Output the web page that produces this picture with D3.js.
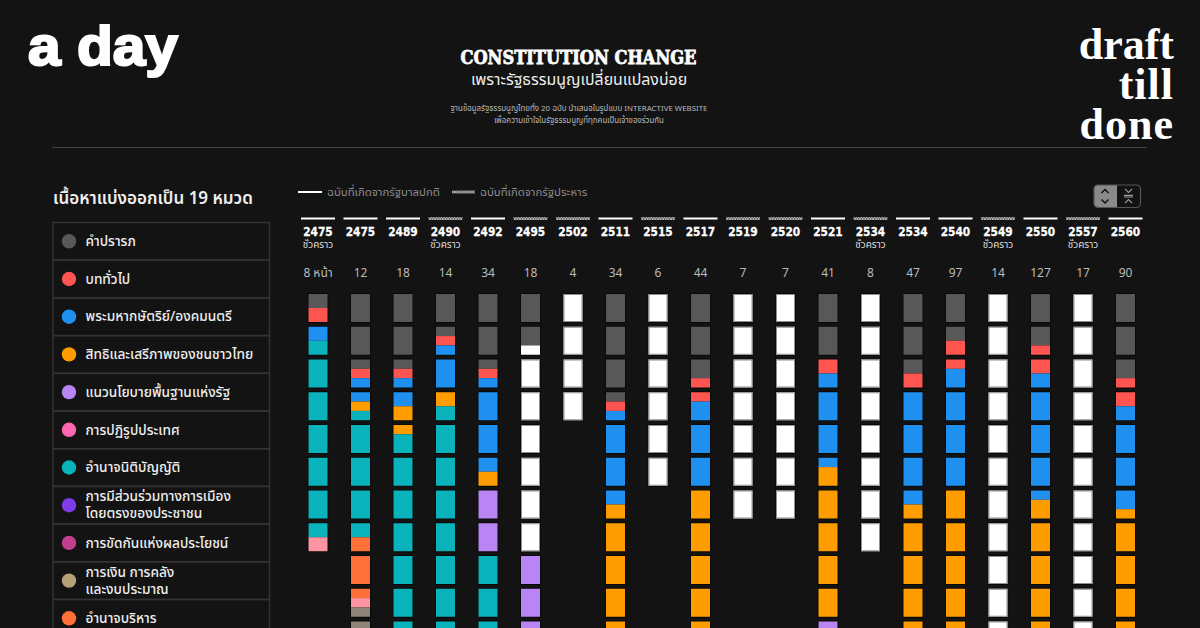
<!DOCTYPE html>
<html>
<head>
<meta charset="utf-8">
<script src="https://cdnjs.cloudflare.com/ajax/libs/d3/7.8.5/d3.min.js"></script>
<style>
	html, body { margin: 0; padding: 0; background: #131313; overflow: hidden; }
	svg { display: block; }
	text { font-family: "Noto Sans", "Noto Sans Thai", "DejaVu Sans", sans-serif; }
	.slab { font-family: "DejaVu Serif", serif; font-weight: 700; }
	.year { font-family: "DejaVu Sans", sans-serif; font-weight: 700; }
</style>
</head>
<body>
<div id="chart"></div>
<script>
// legend, in the order of the constitution's chapters
var legendKeys = ['pre', 'gen', 'king', 'rights', 'policy', 'reform', 'leg', 'part', 'conflict', 'money', 'exec'];
var legendLabels = [
	['คำปรารภ'],
	['บททั่วไป'],
	['พระมหากษัตริย์/องคมนตรี'],
	['สิทธิและเสรีภาพของชนชาวไทย'],
	['แนวนโยบายพื้นฐานแห่งรัฐ'],
	['การปฏิรูปประเทศ'],
	['อำนาจนิติบัญญัติ'],
	['การมีส่วนร่วมทางการเมือง', 'โดยตรงของประชาชน'],
	['การขัดกันแห่งผลประโยชน์'],
	['การเงิน การคลัง', 'และงบประมาณ'],
	['อำนาจบริหาร']
];
var categoryKeys = legendKeys.concat(['cat12', 'cat13', 'blank']);
var categoryColors = ['#585858', '#ff5551', '#2090f0', '#ff9d00', '#b985f5', '#ff66b2', '#0ab3bb', '#7d3ce8', '#c0408f', '#b5a077', '#ff7038', '#ff94a2', '#8c8478', '#ffffff'];

// one entry per constitution
var years = ['2475', '2475', '2489', '2490', '2492', '2495', '2502', '2511', '2515', '2517', '2519', '2520', '2521', '2534', '2534', '2540', '2549', '2550', '2557', '2560'];
var pageCounts = ['8 หน้า', '12', '18', '14', '34', '18', '4', '34', '6', '44', '7', '7', '41', '8', '47', '97', '14', '127', '17', '90'];
var fromCoup = [0, 0, 0, 1, 0, 1, 1, 0, 1, 0, 1, 1, 0, 1, 0, 0, 1, 0, 1, 0];
var interim = [1, 0, 0, 1, 0, 0, 0, 0, 0, 0, 0, 0, 0, 1, 0, 0, 1, 0, 1, 0];

// chapter lengths in sixths of a page, as far as the picture shows them
var sections = [
	[['pre', 3], ['gen', 3], ['king', 3], ['leg', 36], ['cat12', 3]],
	[['pre', 14], ['gen', 2], ['king', 4], ['rights', 2], ['leg', 23], ['exec', 11], ['cat12', 2], ['cat13', 8]],
	[['pre', 14], ['gen', 2], ['king', 5], ['rights', 5], ['leg', 40]],
	[['pre', 8], ['gen', 2], ['king', 8], ['rights', 3], ['leg', 45]],
	[['pre', 14], ['gen', 2], ['king', 17], ['rights', 3], ['policy', 12], ['leg', 18]],
	[['pre', 10], ['blank', 38], ['policy', 18]],
	[['blank', 24]],
	[['pre', 20], ['gen', 2], ['king', 17], ['rights', 27]],
	[['blank', 36]],
	[['pre', 16], ['gen', 4], ['king', 16], ['rights', 30]],
	[['blank', 42]],
	[['blank', 42]],
	[['pre', 12], ['gen', 3], ['king', 17], ['rights', 28], ['policy', 9]],
	[['blank', 48]],
	[['pre', 15], ['gen', 3], ['king', 21], ['rights', 27]],
	[['pre', 9], ['gen', 5], ['king', 22], ['rights', 30]],
	[['blank', 84]],
	[['pre', 10], ['gen', 5], ['king', 23], ['rights', 28]],
	[['blank', 102]],
	[['pre', 16], ['gen', 5], ['king', 19], ['rights', 26]]
];

var brandWords = ['draft', 'till', 'done'];

var SIXTHS = 6;

var x = d3.scalePoint().domain(d3.range(years.length)).range([318, 1125.5]);
var rowY = d3.scaleLinear().domain([0, 1]).range([294, 326.75]);
var cellY = d3.scaleLinear().domain([0, SIXTHS]).range([0, 28]);
var color = d3.scaleOrdinal(categoryKeys, categoryColors);
var legendY = d3.scaleLinear().domain([0, 1]).range([222.5, 260.2]);

var svg = d3.select('#chart').append('svg').attr('width', 1200).attr('height', 628);

// small chain of crosses used for the coup lines
var chain = svg.append('defs').append('pattern').attr('id', 'chain')
	.attr('patternUnits', 'userSpaceOnUse').attr('width', 2.6).attr('height', 3);
chain.append('path').attr('d', 'M0 0.3L2.6 2.7M0 2.7L2.6 0.3').attr('stroke', '#d0d0d0').attr('stroke-width', 0.9).attr('fill', 'none');

// wrap a column's chapters over its page cells
function toSegments (list) {
	var res = [], pos = 0;
	list.forEach(function (d) {
		var left = d[1];
		while (left > 0) {
			var row = Math.floor(pos / SIXTHS),
				start = pos - row * SIXTHS,
				len = Math.min(left, SIXTHS - start);
			res.push({key: d[0], row: row, start: start, len: len});
			pos += len;
			left -= len;
		}
	});
	return res;
}

// header
svg.append('text').attr('x', 28).attr('y', 65)
	.style('font-family', '"Liberation Sans"').style('font-weight', 700).style('font-size', '56px')
	.attr('textLength', 150).attr('lengthAdjust', 'spacingAndGlyphs')
	.attr('fill', '#fff').attr('stroke', '#fff').attr('stroke-width', 2.2).text('a day');

svg.selectAll('.brand').data(brandWords).enter().append('text')
	.attr('class', 'brand').attr('x', 1174).attr('y', function (d, i) { return 59 + i * 40; })
	.attr('text-anchor', 'end')
	.style('font-family', '"Liberation Serif"').style('font-weight', 700).style('font-size', '44px')
	.style('letter-spacing', function (d) { return d === 'draft' ? '0' : '1px'; })
	.attr('fill', '#fff').text(function (d) { return d; });

svg.append('text').attr('class', 'slab').attr('x', 578.5).attr('y', 64).attr('text-anchor', 'middle')
	.style('font-size', '19px').attr('fill', '#fff').attr('stroke', '#fff').attr('stroke-width', 0.8)
	.attr('textLength', 236).attr('lengthAdjust', 'spacingAndGlyphs')
	.text('CONSTITUTION CHANGE');
svg.append('text').attr('x', 579).attr('y', 85).attr('text-anchor', 'middle')
	.style('font-size', '15.9px').attr('fill', '#eee').text('เพราะรัฐธรรมนูญเปลี่ยนแปลงบ่อย');
svg.append('text').attr('x', 579).attr('y', 111).attr('text-anchor', 'middle')
	.style('font-size', '7.9px').attr('fill', '#bbb').text('ฐานข้อมูลรัฐธรรมนูญไทยทั้ง 20 ฉบับ นำเสนอในรูปแบบ INTERACTIVE WEBSITE');
svg.append('text').attr('x', 579).attr('y', 123).attr('text-anchor', 'middle')
	.style('font-size', '7.9px').attr('fill', '#bbb').text('เพื่อความเข้าใจในรัฐธรรมนูญที่ทุกคนเป็นเจ้าของร่วมกัน');

svg.append('line').attr('x1', 52).attr('x2', 1147).attr('y1', 147.5).attr('y2', 147.5).attr('stroke', '#444').attr('stroke-width', 1);

// left legend
svg.append('text').attr('x', 53).attr('y', 204)
	.style('font-size', '17px').style('font-weight', 600).attr('fill', '#eee').text('เนื้อหาแบ่งออกเป็น 19 หมวด');

var legendRow = svg.selectAll('.legend-row').data(legendKeys).enter().append('g')
	.attr('class', 'legend-row')
	.attr('transform', function (d, i) { return 'translate(0,' + legendY(i) + ')'; });
legendRow.append('rect').attr('x', 53).attr('y', 0).attr('width', 216.5).attr('height', legendY(1) - legendY(0))
	.attr('fill', 'none').attr('stroke', '#333').attr('stroke-width', 1.5);
legendRow.append('circle').attr('cx', 69).attr('cy', 18.8).attr('r', 7.2).attr('fill', function (d) { return color(d); });
legendRow.each(function (d, i) {
	var lines = legendLabels[i];
	d3.select(this).selectAll('text').data(lines).enter().append('text')
		.attr('x', 85.5)
		.attr('y', function (t, j) { return 23.6 + (j - (lines.length - 1) / 2) * 17; })
		.style('font-size', '13.7px').style('font-weight', 500).attr('fill', '#eee')
		.text(function (t) { return t; });
});

// top line styles
svg.append('line').attr('x1', 298).attr('x2', 322).attr('y1', 192).attr('y2', 192).attr('stroke', '#fff').attr('stroke-width', 2);
svg.append('text').attr('x', 327).attr('y', 196).style('font-size', '11.4px').attr('fill', '#8c8c8c').text('ฉบับที่เกิดจากรัฐบาลปกติ');
svg.append('rect').attr('x', 452).attr('y', 190.5).attr('width', 23).attr('height', 3).attr('fill', 'url(#chain)');
svg.append('text').attr('x', 480).attr('y', 196).style('font-size', '11.4px').attr('fill', '#8c8c8c').text('ฉบับที่เกิดจากรัฐประหาร');

// expand / collapse toggle
var toggle = svg.append('g').attr('fill', 'none');
toggle.append('path').attr('d', 'M1117 185H1098a4 4 0 0 0 -4 4V203a4 4 0 0 0 4 4H1117Z').attr('fill', '#8a8a8a');
toggle.append('rect').attr('x', 1094).attr('y', 185).attr('width', 46.5).attr('height', 22.5).attr('rx', 4).attr('stroke', '#555').attr('stroke-width', 1.2);
toggle.append('path').attr('d', 'M1101.5 193l3.5-3.5 3.5 3.5M1101.5 199.5l3.5 3.5 3.5-3.5').attr('stroke', '#111').attr('stroke-width', 1.5);
toggle.append('path').attr('d', 'M1125 189l3.5 3.5 3.5-3.5M1125 203l3.5-3.5 3.5 3.5M1124 195.4H1133M1124 197H1133').attr('stroke', '#999').attr('stroke-width', 1.1);

// columns
var column = svg.selectAll('.column').data(years).enter().append('g')
	.attr('class', 'column')
	.attr('transform', function (d, i) { return 'translate(' + x(i) + ',0)'; });

column.filter(function (d, i) { return !fromCoup[i]; }).append('line')
	.attr('x1', -17).attr('x2', 17).attr('y1', 218.5).attr('y2', 218.5)
	.attr('stroke', '#fff').attr('stroke-width', 2);
column.filter(function (d, i) { return fromCoup[i]; }).append('rect')
	.attr('x', -17).attr('width', 34).attr('y', 217).attr('height', 3)
	.attr('fill', 'url(#chain)');

column.append('text').attr('class', 'year').attr('y', 236).attr('text-anchor', 'middle')
	.style('font-size', '13px').attr('fill', '#fff').attr('stroke', '#fff').attr('stroke-width', 0.3)
	.attr('textLength', 29.5).attr('lengthAdjust', 'spacingAndGlyphs')
	.text(function (d) { return d; });

column.filter(function (d, i) { return interim[i]; }).append('text').attr('y', 248).attr('text-anchor', 'middle')
	.style('font-size', '10px').attr('fill', '#ddd').text('ชั่วคราว');

column.append('text').attr('y', 277).attr('text-anchor', 'middle')
	.style('font-size', '12px').attr('fill', '#bbb').text(function (d, i) { return pageCounts[i]; });

column.each(function (d, i) {
	var segs = toSegments(sections[i]),
		g = d3.select(this),
		rows = d3.max(segs, function (s) { return s.row; }) + 1;

	// dark halo round each page cell
	g.selectAll('.cell').data(d3.range(rows)).enter().append('rect')
		.attr('class', 'cell').attr('x', -10.5).attr('width', 21)
		.attr('y', function (r) { return rowY(r) - 1; }).attr('height', cellY(SIXTHS) + 2)
		.attr('fill', '#000').attr('opacity', 0.5);

	g.selectAll('.seg').data(segs).enter().append('rect')
		.attr('class', 'seg').attr('x', -9.5).attr('width', 19)
		.attr('y', function (s) { return rowY(s.row) + cellY(s.start); })
		.attr('height', function (s) { return cellY(s.len); })
		.attr('fill', function (s) { return color(s.key); });

	// the white pages carry a grey edge
	g.selectAll('.edge').data(segs.filter(function (s) { return s.key === 'blank' && s.len === SIXTHS; })).enter().append('rect')
		.attr('class', 'edge').attr('x', -9).attr('width', 18)
		.attr('y', function (s) { return rowY(s.row) + 0.5; }).attr('height', cellY(SIXTHS) - 1)
		.attr('fill', 'none').attr('stroke', '#8f8f8f').attr('stroke-width', 1);
});
</script>
</body>
</html>
